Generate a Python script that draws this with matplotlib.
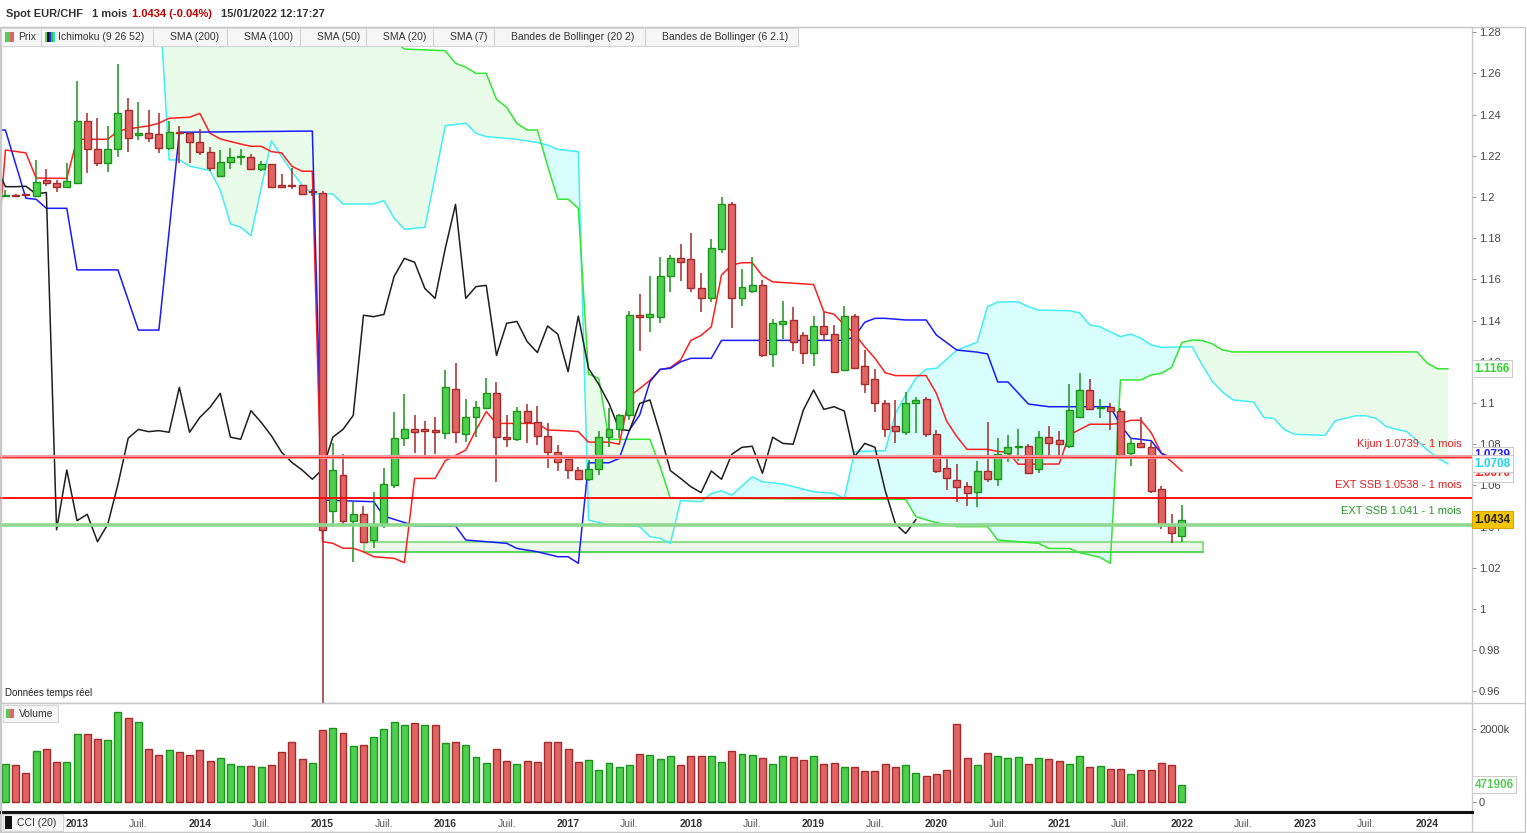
import numpy as np
import matplotlib
matplotlib.use("Agg")
import matplotlib.pyplot as plt
from matplotlib.patches import Rectangle
from matplotlib.transforms import blended_transform_factory

plt.rcParams['font.family'] = ['Liberation Sans', 'DejaVu Sans']

W, H = 1527, 833

# monthly candles, index 0 = Jun 2012 ... 115 = Jan 2022
opens = [
    1.2004, 1.2010, 1.2010, 1.2005, 1.2082, 1.2066, 1.2047, 1.2070, 1.2369, 1.2231,
    1.2163, 1.2231, 1.2422, 1.2303, 1.2309, 1.2304, 1.2236, 1.2314, 1.2309, 1.2265,
    1.2217, 1.2104, 1.2171, 1.2196, 1.2196, 1.2134, 1.2158, 1.2058, 1.2056, 1.2057,
    1.2030, 1.2017, 1.0477, 1.0649, 1.0429, 1.0460, 1.0335, 1.0411, 1.0602, 1.0829,
    1.0872, 1.0872, 1.0869, 1.0853, 1.1066, 1.0851, 1.0930, 1.0974, 1.1047, 1.0834,
    1.0824, 1.0963, 1.0909, 1.0841, 1.0761, 1.0728, 1.0675, 1.0630, 1.0678, 1.0837,
    1.0872, 1.0940, 1.1426, 1.1419, 1.1416, 1.1615, 1.1702, 1.1697, 1.1556, 1.1508,
    1.1746, 1.1964, 1.1508, 1.1544, 1.1571, 1.1236, 1.1382, 1.1403, 1.1330, 1.1245,
    1.1374, 1.1334, 1.1160, 1.1422, 1.1180, 1.1115, 1.0998, 1.0888, 1.0861, 1.0998,
    1.1018, 1.0850, 1.0683, 1.0626, 1.0597, 1.0570, 1.0670, 1.0630, 1.0756, 1.0786,
    1.0791, 1.0678, 1.0834, 1.0820, 1.0793, 1.0934, 1.1063, 1.0974, 1.0982, 1.0961,
    1.0756, 1.0804, 1.0785, 1.0581, 1.0413, 1.0355]
highs = [
    1.2034, 1.2015, 1.2016, 1.2180, 1.2136, 1.2082, 1.2165, 1.2563, 1.2410, 1.2383,
    1.2345, 1.2646, 1.2479, 1.2459, 1.2423, 1.2410, 1.2369, 1.2345, 1.2315, 1.2330,
    1.2245, 1.2228, 1.2238, 1.2233, 1.2209, 1.2173, 1.2162, 1.2112, 1.2139, 1.2060,
    1.2040, 1.2030, 1.0804, 1.0752, 1.0518, 1.0500, 1.0567, 1.0683, 1.0955, 1.1044,
    1.0942, 1.0913, 1.0930, 1.1160, 1.1193, 1.1018, 1.1010, 1.1120, 1.1100, 1.0942,
    1.0980, 1.0995, 1.0985, 1.0902, 1.0795, 1.0745, 1.0690, 1.0722, 1.0866, 1.0977,
    1.0945, 1.1448, 1.1529, 1.1617, 1.1710, 1.1718, 1.1772, 1.1824, 1.1629, 1.1795,
    1.1998, 1.1974, 1.1650, 1.1710, 1.1597, 1.1408, 1.1495, 1.1465, 1.1346, 1.1422,
    1.1440, 1.1379, 1.1471, 1.1432, 1.1257, 1.1165, 1.1015, 1.1015, 1.1052, 1.1031,
    1.1031, 1.0869, 1.0727, 1.0704, 1.0618, 1.0720, 1.0909, 1.0829, 1.0845, 1.0872,
    1.0800, 1.0864, 1.0888, 1.0864, 1.1092, 1.1147, 1.1115, 1.1019, 1.1000, 1.0978,
    1.0829, 1.0930, 1.0811, 1.0597, 1.0461, 1.0505]
lows = [
    1.2000, 1.2004, 1.2004, 1.2000, 1.2055, 1.2026, 1.2045, 1.2066, 1.2115, 1.2152,
    1.2123, 1.2192, 1.2217, 1.2277, 1.2265, 1.2212, 1.2230, 1.2163, 1.2163, 1.2205,
    1.2125, 1.2100, 1.2136, 1.2155, 1.2130, 1.2128, 1.2045, 1.2043, 1.2040, 1.2009,
    1.2005, 0.8400, 1.0400, 1.0413, 1.0230, 1.0320, 1.0294, 1.0395, 1.0586, 1.0791,
    1.0756, 1.0728, 1.0751, 1.0824, 1.0804, 1.0812, 1.0837, 1.0970, 1.0618, 1.0785,
    1.0818, 1.0808, 1.0796, 1.0683, 1.0672, 1.0631, 1.0625, 1.0622, 1.0650, 1.0788,
    1.0829, 1.0917, 1.1254, 1.1343, 1.1387, 1.1540, 1.1594, 1.1540, 1.1443, 1.1492,
    1.1730, 1.1363, 1.1472, 1.1532, 1.1225, 1.1176, 1.1311, 1.1254, 1.1189, 1.1180,
    1.1303, 1.1150, 1.1155, 1.1165, 1.1050, 1.0958, 1.0834, 1.0808, 1.0845, 1.0856,
    1.0834, 1.0662, 1.0578, 1.0521, 1.0500, 1.0497, 1.0618, 1.0597, 1.0715, 1.0720,
    1.0655, 1.0659, 1.0731, 1.0734, 1.0780, 1.0930, 1.0965, 1.0926, 1.0869, 1.0735,
    1.0696, 1.0783, 1.0565, 1.0387, 1.0322, 1.0327]
closes = [
    1.2006, 1.2007, 1.2008, 1.2074, 1.2068, 1.2047, 1.2076, 1.2369, 1.2231, 1.2163,
    1.2231, 1.2406, 1.2285, 1.2310, 1.2285, 1.2236, 1.2314, 1.2309, 1.2265, 1.2217,
    1.2139, 1.2171, 1.2196, 1.2200, 1.2134, 1.2158, 1.2050, 1.2050, 1.2052, 1.2015,
    1.2022, 1.0385, 1.0675, 1.0429, 1.0460, 1.0327, 1.0411, 1.0605, 1.0829, 1.0872,
    1.0861, 1.0866, 1.0858, 1.1076, 1.0858, 1.0930, 1.0979, 1.1047, 1.0834, 1.0824,
    1.0963, 1.0906, 1.0841, 1.0761, 1.0712, 1.0675, 1.0630, 1.0678, 1.0834, 1.0872,
    1.0940, 1.1426, 1.1419, 1.1430, 1.1615, 1.1702, 1.1683, 1.1556, 1.1508, 1.1751,
    1.1964, 1.1508, 1.1565, 1.1571, 1.1231, 1.1387, 1.1396, 1.1298, 1.1245, 1.1374,
    1.1334, 1.1152, 1.1422, 1.1168, 1.1091, 1.0998, 1.0872, 1.0866, 1.0998, 1.1015,
    1.0850, 1.0672, 1.0634, 1.0594, 1.0565, 1.0670, 1.0630, 1.0751, 1.0785, 1.0790,
    1.0659, 1.0834, 1.0804, 1.0800, 1.0966, 1.1063, 1.0969, 1.0982, 1.0961, 1.0739,
    1.0804, 1.0785, 1.0575, 1.0413, 1.0367, 1.0434]

# volume in thousands, and its colour flag (1 = green)
volumes = [
    1038, 1011, 789, 1408, 1455, 1094, 1094, 1880, 1880, 1733,
    1705, 2483, 2316, 2205, 1455, 1289, 1427, 1380, 1289, 1427,
    1122, 1205, 1038, 983, 983, 955, 1011, 1380, 1650, 1177,
    1066, 1983, 2039, 1900, 1539, 1566, 1789, 2011, 2205, 2122,
    2178, 2122, 2122, 1622, 1650, 1566, 1233, 1066, 1455, 1122,
    1038, 1122, 1094, 1650, 1650, 1455, 1094, 1150, 872, 1066,
    955, 1011, 1316, 1289, 1177, 1261, 1011, 1261, 1261, 1261,
    1094, 1400, 1316, 1289, 1205, 1038, 1261, 1233, 1150, 1261,
    1038, 1066, 955, 955, 844, 844, 1038, 955, 1011, 789,
    705, 761, 872, 2158, 1205, 1011, 1344, 1261, 1205, 1233,
    1038, 1205, 1177, 1122, 1038, 1261, 955, 983, 900, 900,
    761, 872, 872, 1066, 1011, 472]
vol_up = [
    1, 0, 0, 1, 0, 0, 1, 1, 0, 0, 1, 1, 0, 1, 0, 0, 1, 0, 0, 0,
    0, 1, 1, 1, 0, 1, 0, 0, 0, 0, 1, 0, 1, 0, 1, 0, 1, 1, 1, 1,
    0, 1, 0, 1, 0, 1, 1, 1, 0, 0, 1, 0, 0, 0, 0, 0, 0, 1, 1, 1,
    1, 1, 0, 1, 1, 1, 0, 0, 0, 1, 1, 0, 1, 1, 0, 1, 1, 0, 0, 1,
    0, 0, 1, 0, 0, 0, 0, 0, 1, 1, 0, 0, 0, 0, 0, 1, 0, 1, 1, 1,
    0, 1, 0, 0, 1, 1, 0, 1, 0, 0, 1, 0, 0, 0, 0, 1]

# Ichimoku lines, read as vertices (month index, value)
tenkan_idx = [-1, 0, 2, 3, 6, 7, 10, 11, 12, 13, 14, 15, 16, 18, 19, 20, 21, 22, 23, 24,
              25, 26, 27, 28, 29, 30, 31, 32, 33, 34, 35, 36, 38, 39, 40, 42, 43, 44, 45, 46,
              47, 48, 52, 53, 55, 56, 57, 59, 60, 61, 62, 63, 64, 65, 66, 67, 68, 69, 70, 71,
              72, 73, 74, 75, 79, 80, 81, 82, 83, 84, 85, 86, 87, 90, 91, 92, 93, 94, 96, 97,
              98, 99, 103, 104, 105, 106, 108, 109, 110, 111, 112, 113, 114, 115]
tenkan_val = [1.1600, 1.2228, 1.2214, 1.2092, 1.2090, 1.2280, 1.2280, 1.2320, 1.2330, 1.2338,
              1.2345, 1.2358, 1.2382, 1.2387, 1.2406, 1.2309, 1.2282, 1.2269, 1.2257, 1.2246,
              1.2246, 1.2220, 1.2214, 1.2149, 1.2125, 1.2125, 1.0327, 1.0319, 1.0295, 1.0295,
              1.0278, 1.0254, 1.0246, 1.0225, 1.0634, 1.0634, 1.0720, 1.0746, 1.0772, 1.0869,
              1.0958, 1.0901, 1.0901, 1.0869, 1.0865, 1.0861, 1.0810, 1.0810, 1.0800, 1.1032,
              1.1070, 1.1110, 1.1162, 1.1172, 1.1209, 1.1304, 1.1328, 1.1370, 1.1621, 1.1670,
              1.1681, 1.1681, 1.1617, 1.1588, 1.1575, 1.1443, 1.1431, 1.1379, 1.1338, 1.1273,
              1.1217, 1.1147, 1.1133, 1.1133, 1.1047, 1.0913, 1.0837, 1.0775, 1.0775, 1.0765,
              1.0761, 1.0703, 1.0704, 1.0845, 1.0871, 1.0897, 1.0897, 1.0901, 1.0916, 1.0916,
              1.0856, 1.0756, 1.0715, 1.0670]

kijun_idx = [-1, 0, 2, 3, 4, 6, 7, 11, 13, 15, 17, 30, 31, 36, 37, 39, 40, 44, 45, 49,
             50, 52, 54, 55, 56, 57, 59, 60, 61, 62, 63, 64, 65, 66, 67, 69, 70, 82, 83, 84,
             85, 86, 88, 90, 91, 93, 95, 96, 97, 98, 100, 102, 108, 109, 110, 112, 113, 114, 115]
kijun_val = [1.2325, 1.2325, 1.1994, 1.1989, 1.1945, 1.1945, 1.1646, 1.1646, 1.1354, 1.1354,
             1.2314, 1.2320, 1.0529, 1.0521, 1.0451, 1.0420, 1.0403, 1.0403, 1.0335, 1.0319,
             1.0294, 1.0278, 1.0254, 1.0254, 1.0222, 1.0710, 1.0710, 1.0731, 1.0869, 1.0942,
             1.1103, 1.1164, 1.1168, 1.1200, 1.1217, 1.1217, 1.1304, 1.1304, 1.1322, 1.1392,
             1.1411, 1.1411, 1.1403, 1.1403, 1.1330, 1.1257, 1.1247, 1.1238, 1.1102, 1.1102,
             1.0995, 1.0982, 1.0982, 1.0893, 1.0829, 1.0817, 1.0756, 1.0735, 1.0739]

ssa_idx = [15, 16, 17, 18, 20, 21, 22, 23, 24, 26, 27, 28, 29, 30, 32, 33, 36, 37, 38, 39,
           41, 42, 43, 45, 46, 47, 50, 52, 53, 54, 56, 57, 59, 62, 63, 64, 65, 66, 68, 69,
           70, 71, 73, 74, 76, 79, 81, 82, 83, 86, 87, 88, 89, 90, 91, 93, 95, 96, 97, 99,
           100, 101, 104, 105, 106, 107, 108, 109, 110, 111, 112, 113, 116, 117, 118, 119, 120, 122, 123, 124,
           125, 126, 129, 130, 132, 133, 134, 135, 136, 137, 139, 140, 141]
ssa_val = [1.3000, 1.2180, 1.2180, 1.2150, 1.2128, 1.2034, 1.1869, 1.1853, 1.1812, 1.2273,
           1.2196, 1.2123, 1.2058, 1.2015, 1.2015, 1.1966, 1.1966, 1.1982, 1.1897, 1.1843,
           1.1853, 1.2099, 1.2346, 1.2358, 1.2309, 1.2293, 1.2280, 1.2264, 1.2252, 1.2231,
           1.2220, 1.0432, 1.0408, 1.0400, 1.0351, 1.0343, 1.0319, 1.0526, 1.0521, 1.0561,
           1.0574, 1.0553, 1.0642, 1.0618, 1.0607, 1.0570, 1.0561, 1.0537, 1.0764, 1.0769,
           1.0950, 1.1039, 1.1120, 1.1164, 1.1168, 1.1257, 1.1295, 1.1468, 1.1490, 1.1492,
           1.1468, 1.1451, 1.1448, 1.1438, 1.1379, 1.1370, 1.1346, 1.1322, 1.1335, 1.1314,
           1.1282, 1.1270, 1.1273, 1.1184, 1.1103, 1.1052, 1.1015, 1.1005, 1.0930, 1.0925,
           1.0872, 1.0848, 1.0843, 1.0914, 1.0938, 1.0938, 1.0925, 1.0885, 1.0872, 1.0861,
           1.0772, 1.0732, 1.0705]

ssb_idx = [15, 37, 38, 39, 43, 44, 45, 46, 47, 48, 49, 50, 51, 52, 53, 54, 55, 56, 57, 58,
           59, 63, 64, 65, 88, 89, 91, 93, 96, 97, 101, 102, 104, 105, 107, 108, 109, 111, 112, 113,
           114, 115, 116, 117, 118, 119, 120, 138, 139, 140, 141]
ssb_val = [1.3200, 1.3200, 1.2760, 1.2718, 1.2710, 1.2649, 1.2630, 1.2600, 1.2600, 1.2474,
           1.2435, 1.2357, 1.2325, 1.2325, 1.2150, 1.1989, 1.1989, 1.1945, 1.1140, 1.1120,
           1.0824, 1.0824, 1.0691, 1.0538, 1.0532, 1.0448, 1.0419, 1.0400, 1.0400, 1.0335,
           1.0319, 1.0294, 1.0294, 1.0274, 1.0251, 1.0222, 1.1112, 1.1112, 1.1136, 1.1144,
           1.1173, 1.1293, 1.1306, 1.1303, 1.1287, 1.1257, 1.1248, 1.1248, 1.1193, 1.1166,
           1.1166]

# horizontal levels and support zone
kijun_level = 1.0739
ssb_ext_red = 1.0538
ssb_ext_green = 1.041
zone_lo, zone_hi = 1.0275, 1.0327
zone_start, zone_end = 35.1, 117.1

years = ['2013', '2014', '2015', '2016', '2017', '2018', '2019', '2020', '2021', '2022', '2023', '2024']
year_idx = [7 + 12 * k for k in range(len(years))]
juil_idx = [1 + 12 * k for k in range(12)]

legend_items = [('Prix', 1, 41), ('Ichimoku (9 26 52)', 41, 153), ('SMA (200)', 153, 227),
                ('SMA (100)', 227, 300), ('SMA (50)', 300, 366), ('SMA (20)', 366, 433),
                ('SMA (7)', 433, 494), ('Bandes de Bollinger (20 2)', 494, 645),
                ('Bandes de Bollinger (6 2.1)', 645, 798)]

GREEN, GREEN_E = '#4fcf4f', '#1c931c'
RED, RED_E = '#e06464', '#a52a2a'
XLIM = (-0.53, 143.36)

fig = plt.figure(figsize=(W / 100, H / 100), dpi=100)


def fx(px):
    return px / W


def fy(py):
    return 1 - py / H


def rect(x0, y0, x1, y1):
    return [fx(x0), fy(y1), fx(x1) - fx(x0), fy(y0) - fy(y1)]


def fig_box(x0, y0, x1, y1, fc, ec, lw=0.8, z=10):
    fig.add_artist(Rectangle((fx(x0), fy(y1)), fx(x1) - fx(x0), fy(y0) - fy(y1),
                             transform=fig.transFigure, facecolor=fc, edgecolor=ec,
                             linewidth=lw, zorder=z))


ax = fig.add_axes(rect(0, 27, 1472, 703))
axv = fig.add_axes(rect(0, 703, 1472, 812))
axc = fig.add_axes(rect(0, 812, 1472, 832))

o = np.array(opens)
h = np.array(highs)
l = np.array(lows)
c = np.array(closes)
x = np.arange(len(c))
up = c >= o

# cloud
grid = np.linspace(ssa_idx[0], ssa_idx[-1], 3000)
a = np.interp(grid, ssa_idx, ssa_val)
b = np.interp(grid, ssb_idx, ssb_val)
ax.fill_between(grid, a, b, where=b >= a, color='#e9fce9', lw=0, interpolate=True, zorder=1)
ax.fill_between(grid, a, b, where=a > b, color='#d8fefe', lw=0, interpolate=True, zorder=1)
ax.plot(ssa_idx, ssa_val, color='#44eef4', lw=1.1, zorder=2)
ax.plot(ssb_idx, ssb_val, color='#33e633', lw=1.1, zorder=2)

# support zone
ax.add_patch(Rectangle((zone_start, zone_lo), zone_end - zone_start, zone_hi - zone_lo,
                       facecolor='#eef9ee', edgecolor='#93dd93', lw=1.6, zorder=1.5))
ax.plot([zone_start, zone_end], [zone_lo, zone_lo], color='#4cd04c', lw=1.1, zorder=1.6)

# tenkan / kijun / chikou
ax.plot(tenkan_idx, tenkan_val, color='#ff1f1f', lw=1.1, zorder=2.2)
ax.plot(kijun_idx, kijun_val, color='#1a1aff', lw=1.1, zorder=2.2)
ax.plot(np.arange(-1, len(c) - 26), c[25:], color='#1e1e1e', lw=1.1, zorder=2.2)

# candles
wick_c = [GREEN_E if u else RED_E for u in up]
ax.vlines(x, l, h, colors=wick_c, lw=1.1, zorder=3)
ax.bar(x, np.maximum(np.abs(c - o), 0.0005), bottom=np.minimum(o, c), width=0.68,
       color=[GREEN if u else RED for u in up], edgecolor=wick_c, linewidth=1, zorder=4)

# horizontal levels
ax.axhline(kijun_level, color='#f49a9a', lw=2.8, zorder=5)
ax.axhline(kijun_level, color='#ff3030', lw=0.8, zorder=5)
ax.axhline(ssb_ext_red, color='#ff0000', lw=1.3, zorder=5)
ax.axhline(ssb_ext_green, color='#8fd88f', lw=2.6, zorder=5)

bt = blended_transform_factory(ax.transAxes, ax.transData)
for lvl, txt, col in [(kijun_level, 'Kijun 1.0739 - 1 mois', '#e02020'),
                      (ssb_ext_red, 'EXT SSB 1.0538 - 1 mois', '#e02020'),
                      (ssb_ext_green, 'EXT SSB 1.041 - 1 mois', '#2a9a2a')]:
    ax.annotate(txt, xy=(1.0, lvl), xycoords=bt, xytext=(-7.5, 9.5), textcoords='offset points',
                ha='right', va='center', fontsize=8, color=col, zorder=6)

ax.set_xlim(*XLIM)
ax.set_ylim(0.9544, 1.2825)
yt = np.round(np.arange(0.96, 1.2801, 0.02), 2)
ax.set_yticks(yt)
ax.set_yticklabels([f'{t:g}' for t in yt])
ax.set_xticks([])
ax.yaxis.tick_right()
for a_ in (ax, axv, axc):
    a_.tick_params(axis='y', length=3, width=0.8, color='#999999', labelsize=8,
                   labelcolor='#444444', pad=2)
    for s in a_.spines.values():
        s.set_color('#c8c8c8')
        s.set_linewidth(0.9)


# value boxes on the right axis
def value_box(axis, val, txt, col, fc='white', ec='#cccccc', tcol=None):
    tr = blended_transform_factory(axis.transAxes, axis.transData)
    axis.text(1.0018, val, txt, transform=tr, ha='left', va='center', fontsize=8.5,
              fontweight='bold', color=tcol or col, clip_on=False, zorder=8,
              bbox=dict(boxstyle='square,pad=0.22', facecolor=fc, edgecolor=ec, lw=0.8))


value_box(ax, kijun_val[-1] + 0.0008, f'{kijun_val[-1]:.4f}', '#2222ff')
value_box(ax, tenkan_val[-1] - 0.0012, f'{tenkan_val[-1]:.4f}', '#ff2020')
value_box(ax, ssa_val[-1], '1.0708', '#22d8e8')
value_box(ax, ssb_val[-1], f'{ssb_val[-1]:.4f}', '#33d633')
value_box(ax, closes[-1], f'{closes[-1]:.4f}', '#222222', fc='#f5c400', ec='#d9a800')

# volume panel
axv.bar(x, volumes, width=0.68, color=[GREEN if u else RED for u in vol_up],
        edgecolor=[GREEN_E if u else RED_E for u in vol_up], linewidth=1, zorder=3)
axv.set_xlim(*XLIM)
axv.set_ylim(-286, 2733)
axv.set_xticks([])
axv.yaxis.tick_right()
axv.set_yticks([0, 2000])
axv.set_yticklabels(['0', '2000k'])
value_box(axv, volumes[-1], '471906', '#55cc55')

# bottom strip with date labels
axc.set_xlim(*XLIM)
axc.set_ylim(0, 1)
axc.set_xticks([])
axc.set_yticks([])
axc.spines['top'].set_color('#111111')
axc.spines['top'].set_linewidth(2.2)
ct = blended_transform_factory(axc.transData, axc.transAxes)
for i, yr in zip(year_idx, years):
    axc.text(i, 0.42, yr, transform=ct, ha='center', va='center', fontsize=7.5,
             fontweight='bold', color='#333333')
for i in juil_idx:
    axc.text(i, 0.42, 'Juil.', transform=ct, ha='center', va='center', fontsize=7.5,
             color='#555555')

# outer frame and separators
fig_box(0.5, 27, 1525, 832, 'none', '#c8c8c8', lw=1.0, z=0.5)
fig.add_artist(plt.Line2D([0, fx(1525)], [fy(703), fy(703)], transform=fig.transFigure,
                          color='#c8c8c8', lw=1.0))

# header
fig.text(fx(6), fy(14), 'Spot EUR/CHF', fontsize=8, fontweight='bold', color='#333333', va='center')
fig.text(fx(92), fy(14), '1 mois', fontsize=8, fontweight='bold', color='#333333', va='center')
fig.text(fx(132), fy(14), '1.0434 (-0.04%)', fontsize=8, fontweight='bold', color='#c00000', va='center')
fig.text(fx(221), fy(14), '15/01/2022 12:17:27', fontsize=8, fontweight='bold', color='#333333', va='center')

# indicator legend row
for txt, x0, x1 in legend_items:
    fig_box(x0, 28, x1, 46, '#f6f6f6', '#d4d4d4')
    fig.text(fx(x0 + 17), fy(37), txt, fontsize=7.5, color='#333333', va='center', zorder=12)
fig_box(5, 32, 9.5, 42, '#55cc55', 'none', lw=0, z=11)
fig_box(9.5, 32, 14, 42, '#e06464', 'none', lw=0, z=11)
for k, col in enumerate(['#55dd55', '#111111', '#2222ff', '#22cc22', '#22dddd']):
    fig_box(45 + 2 * k, 32, 47 + 2 * k, 42, col, 'none', lw=0, z=11)

fig.text(fx(5), fy(693), 'Données temps réel', fontsize=7, color='#222222', va='center')

fig_box(3, 705, 58, 722, '#f6f6f6', '#d4d4d4')
fig_box(6, 709, 10, 718, '#55cc55', 'none', lw=0, z=11)
fig_box(10, 709, 14, 718, '#e06464', 'none', lw=0, z=11)
fig.text(fx(19), fy(714), 'Volume', fontsize=7.5, color='#333333', va='center', zorder=12)

fig_box(3, 814, 63, 831, '#f6f6f6', '#d4d4d4', z=13)
fig_box(5, 816, 12, 829, '#111111', 'none', lw=0, z=14)
fig.text(fx(17), fy(822.5), 'CCI (20)', fontsize=7.5, color='#333333', va='center', zorder=14)

fig.savefig('out.png', dpi=100)
